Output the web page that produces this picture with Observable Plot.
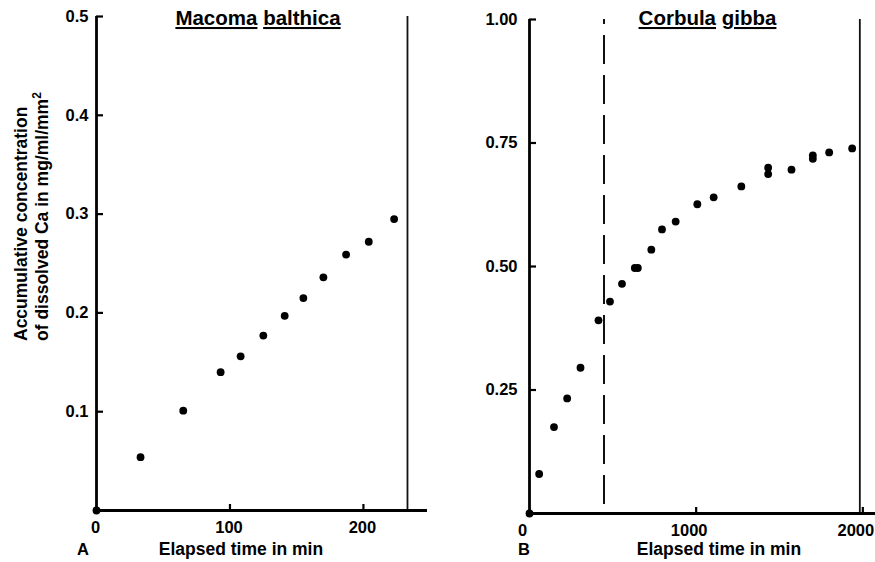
<!DOCTYPE html>
<html>
<head>
<meta charset="utf-8">
<script src="https://cdn.jsdelivr.net/npm/d3@7"></script>
<script src="https://cdn.jsdelivr.net/npm/@observablehq/plot@0.6"></script>
<style>
  body { margin: 0; background: #fff; }
  #chart { position: relative; width: 875px; height: 562px; display: flex; }
  #chart svg { display: block; flex: none; }
</style>
</head>
<body>
<div id="chart"></div>
<script>
// ---------- Data ----------
// Panel A: Macoma balthica
const macomaTime = [0, 33, 65, 93, 108, 125, 141, 155, 170, 187, 204, 223];
const macomaCa   = [0, 0.054, 0.101, 0.140, 0.156, 0.177, 0.197, 0.215, 0.236, 0.259, 0.272, 0.295];
const macomaEndLine = [233];
const macomaXTicks = [0, 100, 200];
const macomaYTicks = [0.1, 0.2, 0.3, 0.4, 0.5];

// Panel B: Corbula gibba
const corbulaTime = [0, 58, 147, 226, 306, 414, 483, 555, 632, 650, 731, 795, 877, 1007, 1105, 1271, 1432, 1432, 1572, 1700, 1700, 1798, 1936];
const corbulaCa   = [0, 0.080, 0.175, 0.233, 0.295, 0.391, 0.429, 0.465, 0.497, 0.497, 0.534, 0.575, 0.591, 0.626, 0.640, 0.662, 0.700, 0.687, 0.696, 0.725, 0.718, 0.731, 0.739];
const corbulaDashedLine = [447];
const corbulaEndLine = [1982];
const corbulaXTicks = [0, 1000, 2000];
const corbulaYTicks = [0.25, 0.50, 0.75, 1.00];

// Texts
const titleA = ["Macoma", "balthica"];
const titleB = ["Corbula", "gibba"];
const yLabelLine1 = "Accumulative concentration";
const yLabelLine2 = "of dissolved Ca in mg/ml/mm";
const yLabelSup = "2";
const xLabel = "Elapsed time in min";
const panelLetters = ["A", "B"];

const FONT = '"Liberation Sans", Arial, Helvetica, sans-serif';
const H = 562;

function panel(o) {
  const plotW = o.width - o.marginLeft - o.marginRight;
  const plotH = H - o.marginTop - o.marginBottom;
  const data = o.times.map((t, i) => ({t, v: o.values[i]}));
  return Plot.plot({
    width: o.width, height: H,
    marginLeft: o.marginLeft, marginRight: o.marginRight,
    marginTop: o.marginTop, marginBottom: o.marginBottom,
    style: {fontFamily: FONT, fontSize: "16.5px", fontWeight: "bold", background: "transparent", overflow: "visible", color: "#000"},
    x: {domain: o.xDomain},
    y: {domain: o.yDomain},
    marks: [
      Plot.ruleX(o.solidLines, {stroke: "#111", strokeWidth: 1.8}),
      Plot.ruleX(o.dashedLines, {stroke: "#111", strokeWidth: 2, strokeDasharray: "29,11", strokeDashoffset: 24}),
      Plot.ruleX([0], {stroke: "#000", strokeWidth: 2.8}),
      Plot.ruleY([0], {stroke: "#000", strokeWidth: 2.8}),
      Plot.tickY(o.yTicks, {y: d => d, insetRight: plotW - 7, stroke: "#000", strokeWidth: 2.2}),
      Plot.tickX(o.xTicks.filter(d => d !== 0), {x: d => d, insetTop: plotH - 6, stroke: "#000", strokeWidth: 2.2}),
      Plot.axisY(o.yTicks, {tickSize: 0, tickPadding: o.tickPadY, tickFormat: d3.format(o.yFormat), fontSize: 16.5, fontWeight: "bold", label: null}),
      Plot.axisX(o.xTicks, {tickSize: 0, tickPadding: 11, tickFormat: d => String(d), fontSize: 16.5, fontWeight: "bold", label: null, dx: o.xdx}),
      Plot.dot(data, {x: "t", y: "v", r: 3.9, fill: "#000", stroke: "none"})
    ]
  });
}

function addTitle(svg, words, cx, y) {
  const t = d3.select(svg).append("text")
    .attr("x", cx).attr("y", y)
    .attr("text-anchor", "middle")
    .attr("font-family", FONT).attr("font-weight", "bold").attr("font-size", 20.5)
    .attr("fill", "#000");
  words.forEach((w, i) => {
    if (i > 0) t.append("tspan").text(" ");
    t.append("tspan").style("text-decoration", "underline").text(w);
  });
}

function addText(svg, text, x, y, anchor, size) {
  d3.select(svg).append("text")
    .attr("x", x).attr("y", y)
    .attr("text-anchor", anchor)
    .attr("font-family", FONT).attr("font-weight", "bold").attr("font-size", size)
    .attr("fill", "#000")
    .text(text);
}

const left = panel({
  width: 437, marginLeft: 96, marginRight: 10, marginTop: 16, marginBottom: 52,
  xDomain: [0, 248], yDomain: [0, 0.5],
  xTicks: macomaXTicks, yTicks: macomaYTicks, yFormat: ".1f",
  times: macomaTime, values: macomaCa,
  solidLines: macomaEndLine, dashedLines: [],
  tickPadY: 8, xdx: -1
});

const right = panel({
  width: 438, marginLeft: 92, marginRight: 0, marginTop: 19, marginBottom: 49,
  xDomain: [0, 2076], yDomain: [0, 1],
  xTicks: corbulaXTicks, yTicks: corbulaYTicks, yFormat: ".2f",
  times: corbulaTime, values: corbulaCa,
  solidLines: corbulaEndLine, dashedLines: corbulaDashedLine,
  tickPadY: 12, xdx: -7
});

// Annotations, left panel
addTitle(left, titleA, 258, 25);
addText(left, panelLetters[0], 77, 555, "start", 16.5);
addText(left, xLabel, 241, 555, "middle", 17.5);
const yl = d3.select(left).append("text")
  .attr("transform", "translate(27,341) rotate(-90)")
  .attr("text-anchor", "start")
  .attr("font-family", FONT).attr("font-weight", "bold").attr("font-size", 17.5)
  .attr("fill", "#000");
yl.append("tspan").attr("x", 0).attr("y", 0).text(yLabelLine1);
yl.append("tspan").attr("x", 0).attr("y", 21).text(yLabelLine2);
yl.append("tspan").attr("dy", -7).attr("font-size", 12).text(yLabelSup);

// Annotations, right panel
addTitle(right, titleB, 270.5, 25);
addText(right, panelLetters[1], 81, 555, "start", 16.5);
addText(right, xLabel, 282, 555, "middle", 17.5);

const chart = document.getElementById("chart");
chart.append(left, right);
</script>
</body>
</html>
